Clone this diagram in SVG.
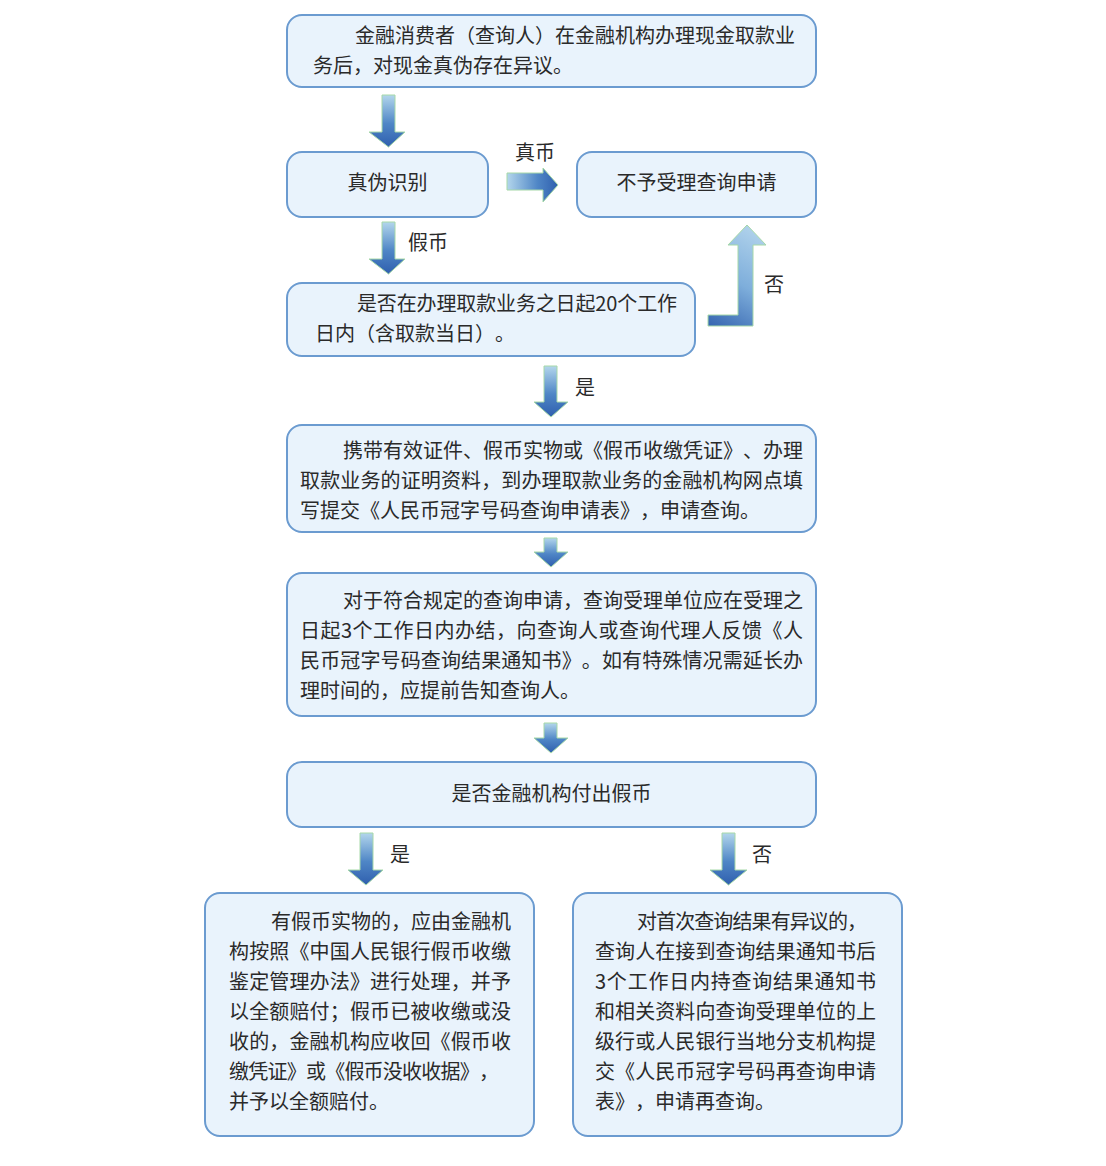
<svg xmlns="http://www.w3.org/2000/svg" width="1106" height="1166" viewBox="0 0 1106 1166">
<defs>
<linearGradient id="gDown" x1="0" y1="0" x2="0" y2="1">
<stop offset="0" stop-color="#b3d6ec"/>
<stop offset="0.55" stop-color="#4f86c6"/>
<stop offset="1" stop-color="#2f5fae"/>
</linearGradient>
<linearGradient id="gRight" x1="0" y1="0" x2="1" y2="0">
<stop offset="0" stop-color="#b3d6ec"/>
<stop offset="0.6" stop-color="#4f86c6"/>
<stop offset="1" stop-color="#2f5fae"/>
</linearGradient>
<linearGradient id="gElbow" gradientUnits="userSpaceOnUse" x1="708" y1="326" x2="766" y2="225">
<stop offset="0" stop-color="#3565b0"/>
<stop offset="0.45" stop-color="#7eaedb"/>
<stop offset="1" stop-color="#b8d8ee"/>
</linearGradient>
<style>
.box{fill:#e9f3fc;stroke:#6b9bd0;stroke-width:2}
.t{font-family:"Noto Sans CJK SC","Noto Sans",sans-serif;font-size:20px;fill:#2a2a2a;text-spacing-trim:space-all;font-kerning:none;font-feature-settings:"palt" 0,"halt" 0,"chws" 0}
.c{text-anchor:middle}
.arr{stroke:#a6d8a8;stroke-width:1}
</style>
</defs>
<rect width="1106" height="1166" fill="#ffffff"/>

<g id="connectors">
<polygon class="arr" fill="url(#gDown)" points="382,95 395,95 395,132 405,132 388.5,147 369,132 382,132"/>
<polygon class="arr" fill="url(#gRight)" points="507,173 543,173 543,168 558,185 543,202 543,190 507,190"/>
<polygon class="arr" fill="url(#gDown)" points="382,222 395,222 395,259 405,259 388.5,274 369,259 382,259"/>
<polygon class="arr" fill="url(#gElbow)" points="708,315 738,315 738,245 728,245 747,225 766,245 753,245 753,326 708,326"/>
<polygon class="arr" fill="url(#gDown)" points="544,366 557,366 557,402 568,402 551,417 534,402 544,402"/>
<polygon class="arr" fill="url(#gDown)" points="544,538 557,538 557,552 568,552 551,567 534,552 544,552"/>
<polygon class="arr" fill="url(#gDown)" points="544,723 557,723 557,738 568,738 551,753 534,738 544,738"/>
<polygon class="arr" fill="url(#gDown)" points="360,833 373,833 373,870 383,870 366,885 348,870 360,870"/>
<polygon class="arr" fill="url(#gDown)" points="722,833 735,833 735,870 747,870 728.5,885 710,870 722,870"/>
<text class="t c" x="535" y="160">真币</text>
<text class="t c" x="428" y="250">假币</text>
<text class="t c" x="774" y="292">否</text>
<text class="t c" x="585" y="395">是</text>
<text class="t c" x="400" y="862">是</text>
<text class="t c" x="762" y="862">否</text>
</g>

<g id="n1">
<rect class="box" x="287" y="15" width="529" height="72" rx="15"/>
<text class="t" x="355" y="43" textLength="440" lengthAdjust="spacing">金融消费者（查询人）在金融机构办理现金取款业</text>
<text class="t" x="313" y="73">务后，对现金真伪存在异议。</text>
</g>

<g id="n2">
<rect class="box" x="287" y="152" width="201" height="65" rx="15"/>
<text class="t c" x="387.5" y="190">真伪识别</text>
</g>

<g id="n3">
<rect class="box" x="577" y="152" width="239" height="65" rx="15"/>
<text class="t c" x="696.5" y="190">不予受理查询申请</text>
</g>

<g id="n4">
<rect class="box" x="287" y="283" width="408" height="73" rx="15"/>
<text class="t" x="357" y="311" textLength="320" lengthAdjust="spacing">是否在办理取款业务之日起20个工作</text>
<text class="t" x="315" y="341">日内（含取款当日）。</text>
</g>

<g id="n5">
<rect class="box" x="287" y="425" width="529" height="107" rx="15"/>
<text class="t" x="343" y="458" textLength="460" lengthAdjust="spacing">携带有效证件、假币实物或《假币收缴凭证》、办理</text>
<text class="t" x="300" y="488" textLength="503" lengthAdjust="spacing">取款业务的证明资料，到办理取款业务的金融机构网点填</text>
<text class="t" x="300" y="518">写提交《人民币冠字号码查询申请表》，申请查询。</text>
</g>

<g id="n6">
<rect class="box" x="287" y="573" width="529" height="143" rx="15"/>
<text class="t" x="343" y="608" textLength="460" lengthAdjust="spacing">对于符合规定的查询申请，查询受理单位应在受理之</text>
<text class="t" x="300" y="638" textLength="503" lengthAdjust="spacing">日起3个工作日内办结，向查询人或查询代理人反馈《人</text>
<text class="t" x="300" y="668" textLength="503" lengthAdjust="spacing">民币冠字号码查询结果通知书》。如有特殊情况需延长办</text>
<text class="t" x="300" y="698">理时间的，应提前告知查询人。</text>
</g>

<g id="n7">
<rect class="box" x="287" y="762" width="529" height="65" rx="15"/>
<text class="t c" x="551.5" y="801">是否金融机构付出假币</text>
</g>

<g id="n8">
<rect class="box" x="205" y="893" width="329" height="243" rx="15"/>
<text class="t" x="271" y="929" textLength="240" lengthAdjust="spacing">有假币实物的，应由金融机</text>
<text class="t" x="229" y="959" textLength="282" lengthAdjust="spacing">构按照《中国人民银行假币收缴</text>
<text class="t" x="229" y="989" textLength="282" lengthAdjust="spacing">鉴定管理办法》进行处理，并予</text>
<text class="t" x="229" y="1019" textLength="282" lengthAdjust="spacing">以全额赔付；假币已被收缴或没</text>
<text class="t" x="229" y="1049" textLength="282" lengthAdjust="spacing">收的，金融机构应收回《假币收</text>
<text class="t" x="229" y="1079" textLength="270" lengthAdjust="spacing">缴凭证》或《假币没收收据》，</text>
<text class="t" x="229" y="1109">并予以全额赔付。</text>
</g>

<g id="n9">
<rect class="box" x="573" y="893" width="329" height="243" rx="15"/>
<text class="t" x="637" y="929" textLength="230" lengthAdjust="spacing">对首次查询结果有异议的，</text>
<text class="t" x="595" y="959" textLength="281" lengthAdjust="spacing">查询人在接到查询结果通知书后</text>
<text class="t" x="595" y="989" textLength="281" lengthAdjust="spacing">3个工作日内持查询结果通知书</text>
<text class="t" x="595" y="1019" textLength="281" lengthAdjust="spacing">和相关资料向查询受理单位的上</text>
<text class="t" x="595" y="1049" textLength="281" lengthAdjust="spacing">级行或人民银行当地分支机构提</text>
<text class="t" x="595" y="1079" textLength="281" lengthAdjust="spacing">交《人民币冠字号码再查询申请</text>
<text class="t" x="595" y="1109">表》，申请再查询。</text>
</g>
</svg>
